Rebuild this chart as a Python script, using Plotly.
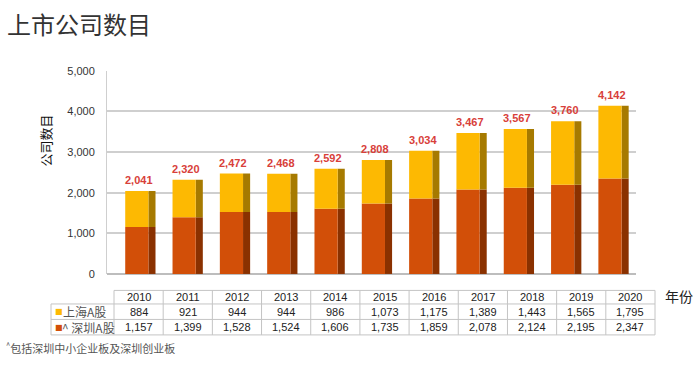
import plotly.graph_objects as go

years = [2010, 2011, 2012, 2013, 2014, 2015, 2016, 2017, 2018, 2019, 2020]
shanghai = [884, 921, 944, 944, 986, 1073, 1175, 1389, 1443, 1565, 1795]
shenzhen = [1157, 1399, 1528, 1524, 1606, 1735, 1859, 2078, 2124, 2195, 2347]
totals = [2041, 2320, 2472, 2468, 2592, 2808, 3034, 3467, 3567, 3760, 4142]
series_names = ["上海A股", "^ 深圳A股"]
y_ticks = [0, 1000, 2000, 3000, 4000, 5000]

YELLOW = "#FDB902"
YELLOW_SIDE = "#A67A00"
ORANGE = "#D24F08"
ORANGE_SIDE = "#8A3100"
RED_LABEL = "#D8403A"
GRID = "#c4c4c4"
FONT = "Liberation Sans, Arial, Noto Sans CJK SC, sans-serif"
CJK = "Noto Sans CJK SC, sans-serif"

W, H = 700, 368


def px(x):
    return x / W


def py(y):
    return 1 - y / H


fig = go.Figure()

front_w, front_off = 0.49, -0.245
side_w, side_off = 0.15, 0.245

fig.add_trace(go.Bar(x=years, y=shenzhen, width=side_w, offset=side_off,
                     marker=dict(color=ORANGE_SIDE, line=dict(width=0)), showlegend=False))
fig.add_trace(go.Bar(x=years, y=shanghai, base=shenzhen, width=side_w, offset=side_off,
                     marker=dict(color=YELLOW_SIDE, line=dict(width=0)), showlegend=False))
fig.add_trace(go.Bar(x=years, y=shenzhen, width=front_w, offset=front_off,
                     marker=dict(color=ORANGE, line=dict(width=0)), name=series_names[1], showlegend=False))
fig.add_trace(go.Bar(x=years, y=shanghai, base=shenzhen, width=front_w, offset=front_off,
                     marker=dict(color=YELLOW, line=dict(width=0)), name=series_names[0], showlegend=False))

annotations = []
# total labels
for yr, tot in zip(years, totals):
    annotations.append(dict(x=yr, y=tot, xref="x", yref="y", text=f"{tot:,}",
                            showarrow=False, xanchor="center", yanchor="bottom",
                            xshift=2, yshift=3,
                            font=dict(color=RED_LABEL, size=11, family=FONT, weight="bold")))

# data table (drawn with shapes + text)
shapes = []
T_LEFT, T_LAB, T_RIGHT = 51, 114, 655
ROWS = [294, 308, 324, 340]
col_w = (T_RIGHT - T_LAB) / len(years)
line = dict(color=GRID, width=1)
shapes.append(dict(type="line", xref="paper", yref="paper", x0=px(T_LAB), x1=px(T_RIGHT),
                   y0=py(ROWS[0]), y1=py(ROWS[0]), line=line))
for r in ROWS[1:]:
    shapes.append(dict(type="line", xref="paper", yref="paper", x0=px(T_LEFT), x1=px(T_RIGHT),
                       y0=py(r), y1=py(r), line=line))
shapes.append(dict(type="line", xref="paper", yref="paper", x0=px(T_LEFT), x1=px(T_LEFT),
                   y0=py(ROWS[1]), y1=py(ROWS[3]), line=line))
for i in range(len(years) + 1):
    xx = T_LAB + col_w * i
    shapes.append(dict(type="line", xref="paper", yref="paper", x0=px(xx), x1=px(xx),
                       y0=py(ROWS[0]), y1=py(ROWS[3]), line=line))

row_mid = [(ROWS[k] + ROWS[k + 1]) / 2 for k in range(3)]
for i, yr in enumerate(years):
    cx = T_LAB + col_w * (i + 0.5)
    for k, txt in enumerate([str(yr), f"{shanghai[i]:,}", f"{shenzhen[i]:,}"]):
        annotations.append(dict(x=px(cx), y=py(row_mid[k]), xref="paper", yref="paper",
                                text=txt, showarrow=False, xanchor="center", yanchor="middle",
                                font=dict(size=11, family=FONT, color="#222")))

for k, (name, col) in enumerate(zip(series_names, [YELLOW, ORANGE])):
    annotations.append(dict(x=px(53), y=py(row_mid[k + 1]), xref="paper", yref="paper",
                            text="■", showarrow=False, xanchor="left", yanchor="middle",
                            font=dict(size=8, family="DejaVu Sans", color=col)))
    annotations.append(dict(x=px(61 if k == 0 else 60), y=py(row_mid[k + 1]), xref="paper", yref="paper",
                            text=name, showarrow=False, xanchor="left", yanchor="middle",
                            font=dict(size=12, family=CJK, color="#555")))

annotations += [
    dict(text="上市公司数目", x=px(5), y=py(18), xref="paper", yref="paper",
         xanchor="left", yanchor="middle", showarrow=False,
         font=dict(size=24, family=CJK, color="#333")),
    dict(text="公司数目", x=px(45), y=py(139), xref="paper", yref="paper", textangle=-90,
         xanchor="center", yanchor="middle", showarrow=False,
         font=dict(size=13, family=CJK, color="#111")),
    dict(text="年份", x=px(679), y=py(300), xref="paper", yref="paper",
         xanchor="center", yanchor="middle", showarrow=False,
         font=dict(size=14, family=CJK, color="#222")),
    dict(text="<sup>^</sup>包括深圳中小企业板及深圳创业板", x=px(4), y=py(353),
         xref="paper", yref="paper", xanchor="left", yanchor="middle", showarrow=False,
         font=dict(size=11, family=CJK, color="#555")),
]

fig.update_layout(
    width=W, height=H,
    margin=dict(l=0, r=0, t=0, b=0),
    paper_bgcolor="white", plot_bgcolor="white",
    barmode="overlay",
    font=dict(family=FONT, color="#333"),
    xaxis=dict(domain=[px(107), px(636)], range=[2009.37, 2020.55],
               showticklabels=False, showgrid=False, zeroline=False, fixedrange=True),
    yaxis=dict(domain=[py(277), py(67)], range=[0, 5000],
               tickvals=y_ticks, tickformat=",", gridcolor="#cfcfcf", gridwidth=1.5,
               showline=True, linecolor="#cfcfcf", zeroline=True, zerolinecolor="#bdbdbd",
               ticks="", ticklabelstandoff=9,
               tickfont=dict(size=11, color="#333", family=FONT)),
    shapes=shapes,
    annotations=annotations,
)

fig.write_html("out.html",
               config={"displayModeBar": False},
               post_script="document.body.style.margin='0px';document.body.style.overflow='hidden';")
